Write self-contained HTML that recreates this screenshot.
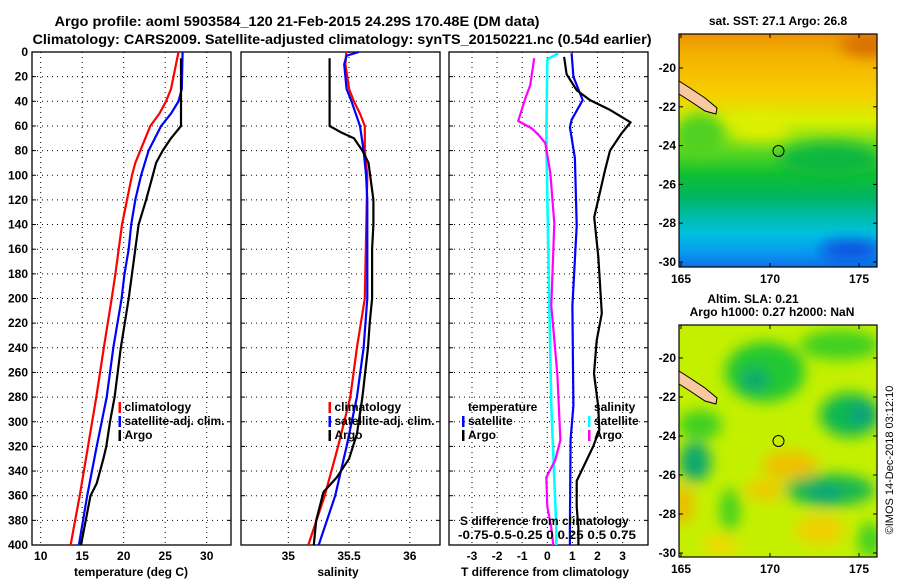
<!DOCTYPE html>
<html><head><meta charset="utf-8"><style>
html,body{margin:0;padding:0;background:#fff;}
svg{display:block;font-family:"Liberation Sans",sans-serif;font-weight:bold;}
</style></head><body>
<svg id="fig" width="900" height="580" viewBox="0 0 900 580" xmlns="http://www.w3.org/2000/svg">
<defs>
<filter id="blur6" x="-50%" y="-50%" width="200%" height="200%"><feGaussianBlur stdDeviation="7"/></filter>
<filter id="blur3"><feGaussianBlur stdDeviation="3"/></filter>
<linearGradient id="sstgrad" x1="0" y1="0" x2="0" y2="1">
<stop offset="0" stop-color="#ec9400"/><stop offset="0.1" stop-color="#f4b400"/>
<stop offset="0.25" stop-color="#f8cc00"/><stop offset="0.37" stop-color="#d8f000"/>
<stop offset="0.5" stop-color="#60d820"/><stop offset="0.6" stop-color="#10c030"/>
<stop offset="0.7" stop-color="#00b460"/><stop offset="0.78" stop-color="#00bca8"/>
<stop offset="0.86" stop-color="#00c0e0"/><stop offset="0.94" stop-color="#0898f0"/>
<stop offset="1" stop-color="#1070e8"/>
</linearGradient>
<clipPath id="clipTop"><rect x="679" y="34" width="198" height="233"/></clipPath>
<clipPath id="clipBot"><rect x="679" y="325" width="198" height="232"/></clipPath>
</defs>
<text x="297" y="26" font-size="14" text-anchor="middle" textLength="485" lengthAdjust="spacingAndGlyphs">Argo profile: aoml 5903584_120 21-Feb-2015 24.29S 170.48E (DM data)</text>
<text x="342" y="44" font-size="14" text-anchor="middle" textLength="619" lengthAdjust="spacingAndGlyphs">Climatology: CARS2009. Satellite-adjusted climatology: synTS_20150221.nc (0.54d earlier)</text>
<g id="panels"></g>
<g id="maps">
 <g clip-path="url(#clipTop)">
  <rect x="679" y="34" width="198" height="233" fill="url(#sstgrad)"/>
  <ellipse cx="700" cy="135" rx="25" ry="22" fill="#50d020" filter="url(#blur6)"/>
  <ellipse cx="830" cy="160" rx="50" ry="18" fill="#10b840" filter="url(#blur6)"/>
  <ellipse cx="760" cy="128" rx="30" ry="12" fill="#e0f000" filter="url(#blur6)"/>
  <ellipse cx="870" cy="45" rx="30" ry="12" fill="#d87000" filter="url(#blur6)"/>
  <ellipse cx="850" cy="250" rx="30" ry="10" fill="#1050e0" filter="url(#blur6)"/>
 </g>
 <rect x="679" y="34" width="198" height="233" fill="none" stroke="#000" stroke-width="1.2"/>
 <polygon points="679,81 690,88 705,98 717,108 716,114 705,111 690,101 679,94" fill="#f8c8a0" stroke="#000" stroke-width="1"/>
 <circle cx="778.5" cy="151" r="5.5" fill="none" stroke="#000" stroke-width="1"/>
 <text x="778" y="25" font-size="12" text-anchor="middle">sat. SST: 27.1 Argo: 26.8</text>

 <g clip-path="url(#clipBot)">
  <rect x="679" y="325" width="198" height="232" fill="#c4f000"/>
  <g filter="url(#blur6)">
   <ellipse cx="765" cy="372" rx="40" ry="30" fill="#20c830"/>
   <ellipse cx="840" cy="345" rx="40" ry="15" fill="#40d020"/>
   <ellipse cx="755" cy="380" rx="14" ry="12" fill="#10a870"/>
   <ellipse cx="700" cy="425" rx="22" ry="15" fill="#40d020"/>
   <ellipse cx="850" cy="415" rx="30" ry="22" fill="#10b850"/>
   <ellipse cx="862" cy="414" rx="12" ry="12" fill="#10a080"/>
   <ellipse cx="695" cy="462" rx="16" ry="20" fill="#10a870"/>
   <ellipse cx="830" cy="490" rx="45" ry="16" fill="#18b850"/>
   <ellipse cx="825" cy="495" rx="18" ry="8" fill="#10a080"/>
   <ellipse cx="790" cy="465" rx="28" ry="14" fill="#f0c000"/>
   <ellipse cx="765" cy="490" rx="20" ry="10" fill="#f0c800"/>
   <ellipse cx="683" cy="505" rx="10" ry="20" fill="#f0b800"/>
   <ellipse cx="820" cy="530" rx="25" ry="15" fill="#f0d000"/>
   <ellipse cx="720" cy="545" rx="18" ry="10" fill="#f0d800"/>
   <ellipse cx="730" cy="510" rx="10" ry="22" fill="#40d020"/>
   <ellipse cx="870" cy="540" rx="12" ry="18" fill="#40d020"/>
  </g>
 </g>
 <rect x="679" y="325" width="198" height="232" fill="none" stroke="#000" stroke-width="1.2"/>
 <polygon points="679,371 690,378 705,388 717,398 716,404 705,401 690,391 679,384" fill="#f8c8a0" stroke="#000" stroke-width="1"/>
 <circle cx="778.5" cy="441" r="5.5" fill="none" stroke="#000" stroke-width="1"/>
 <text x="753" y="303" font-size="12" text-anchor="middle">Altim. SLA: 0.21</text>
 <text x="772" y="316" font-size="12" text-anchor="middle">Argo h1000: 0.27 h2000: NaN</text>
 <g id="mapticks"></g>
 <text transform="translate(893,460) rotate(-90)" font-size="11" font-weight="normal" text-anchor="middle">©IMOS 14-Dec-2018 03:12:10</text>
</g>
</svg>
<script>
// ---- data (depth in dbar) ----
const tempClimDepth = [0,30,40,50,60,70,80,90,100,120,140,160,180,200,240,280,320,360,400];
const tempClim      = [26.6,25.7,25.1,24.3,23.2,22.6,22.0,21.4,21.0,20.4,19.8,19.4,19.0,18.55,17.6,16.7,15.7,14.7,13.6];
const tempSatDepth  = [0,30,40,50,60,80,100,120,140,160,180,200,240,280,320,360,400];
const tempSat       = [27.1,27.0,26.6,25.7,24.5,23.0,22.1,21.4,20.9,20.6,20.1,19.75,18.75,17.95,16.75,15.6,14.6];
const tempArgoDepth = [5,60,70,80,90,100,120,140,160,180,200,240,280,300,320,330,350,360,400];
const tempArgo      = [26.9,26.9,25.7,24.7,23.9,23.5,22.7,21.8,21.4,21.0,20.6,19.65,18.9,18.35,17.9,17.55,16.75,16.0,14.85];

const salClimDepth = [0,10,30,40,50,60,80,100,200,240,280,320,360,400];
const salClim      = [35.477,35.47,35.50,35.54,35.59,35.63,35.63,35.65,35.63,35.565,35.51,35.41,35.30,35.165];
const salSatDepth  = [0,3,10,30,40,60,80,100,120,200,240,280,320,360,400];
const salSat       = [35.58,35.48,35.46,35.48,35.52,35.59,35.62,35.64,35.65,35.65,35.62,35.565,35.48,35.386,35.25];
const salArgoDepth = [5,60,65,70,80,90,120,140,160,200,220,240,280,310,330,345,357,380,400];
const salArgo      = [35.34,35.34,35.43,35.54,35.61,35.66,35.70,35.70,35.69,35.69,35.67,35.656,35.61,35.565,35.50,35.40,35.29,35.23,35.21];

const dTSatDepth  = [1,20,39,55,61,86,141,206,287,314,385,400];
const dTSat       = [0.97,1.04,1.41,0.97,0.9,1.1,1.17,1.0,1.04,0.93,0.9,0.9];
const dTArgoDepth = [4,18,31,39,47,57,66,80,96,134,166,212,234,261,288,307,320,337,348,369,386,400];
const dTArgo      = [0.67,0.77,1.17,1.7,2.5,3.32,2.96,2.5,2.3,1.87,2.03,2.17,1.97,1.86,2.03,2.07,1.83,1.43,1.17,1.17,1.24,1.24];
const dSSatDepth  = [1,6,71,206,287,386,400];
const dSSat       = [0.11,0,-0.01,0.02,0.04,0.09,0.09];
const dSArgoDepth = [5,27,38,56,62,67,74,98,139,206,261,315,331,345,369,386,400];
const dSArgo      = [-0.13,-0.17,-0.22,-0.29,-0.155,-0.09,-0.02,0.03,0.07,0.04,0.10,0.13,0.08,-0.01,0,0.04,0.06];

const depthTicks = [0,20,40,60,80,100,120,140,160,180,200,220,240,260,280,300,320,340,360,380,400];
const tempTicks = [10,15,20,25,30];
const salTicks = [35,35.5,36];
const salTickLabels = ["35","35.5","36"];
const dTTicks = [-3,-2,-1,0,1,2,3];
const dSTickLabels = ["-0.75-0.5-0.25","0","0.25","0.5","0.75"];

// ---- axis functions ----
const Y0=52, Y1=545;
const yD = d => Y0 + d*(Y1-Y0)/400;
const xT = t => 40.7 + (t-10)*8.3;
const xS = s => 288.3 + (s-35)*121.5;
const xdT = t => 547.3 + t*25.1;
const xdS = s => 547.3 + s*100.4;

const NS="http://www.w3.org/2000/svg";
const root=document.getElementById('panels');
function mk(tag,attrs,parent){const e=document.createElementNS(NS,tag);for(const k in attrs)e.setAttribute(k,attrs[k]);(parent||root).appendChild(e);return e;}

const panels=[
 {name:'temperature-panel',x0:32,x1:231,ticks:tempTicks,labels:tempTicks.map(String),fx:xT,xlabel:'temperature (deg C)',lx:131},
 {name:'salinity-panel',x0:241,x1:440,ticks:salTicks,labels:salTickLabels,fx:xS,xlabel:'salinity',lx:338},
 {name:'difference-panel',x0:449,x1:648,ticks:dTTicks,labels:dTTicks.map(String),fx:xdT,xlabel:'T difference from climatology',lx:545}
];
panels.forEach((p,pi)=>{
 const g=mk('g',{});
 
 
 depthTicks.forEach(d=>{
  if(d>0&&d<400){const l=mk('line',{x1:p.x0,x2:p.x1,y1:yD(d),y2:yD(d),stroke:'#000','stroke-width':1,'stroke-dasharray':'1 4'},g);
   }
  mk('line',{x1:p.x0,x2:p.x0+4,y1:yD(d),y2:yD(d),stroke:'#000'},g);
  mk('line',{x1:p.x1-4,x2:p.x1,y1:yD(d),y2:yD(d),stroke:'#000'},g);
 });
 p.ticks.forEach((t,i)=>{
  const x=p.fx(t);
  const l=mk('line',{x1:x,x2:x,y1:Y0,y2:Y1,stroke:'#000','stroke-width':1,'stroke-dasharray':'1 4'},g);
  
  const tx=mk('text',{x:x,y:560,'font-size':12,'text-anchor':'middle'},g);
  
  tx.textContent=p.labels[i];
 });
 const fr=mk('rect',{x:p.x0,y:Y0,width:p.x1-p.x0,height:Y1-Y0,fill:'none',stroke:'#000','stroke-width':1.3},g);
 
 const xl=mk('text',{x:p.lx,y:576,'font-size':12,'text-anchor':'middle'},g);
 
 xl.textContent=p.xlabel;
});
depthTicks.forEach(d=>{
 const t=mk('text',{x:28,y:yD(d)+4,'font-size':12,'text-anchor':'end'});
 
 t.textContent=d;
});

function line(depths,vals,fx,color,name,w){
 const pts=depths.map((d,i)=>fx(vals[i]).toFixed(1)+','+yD(d).toFixed(1)).join(' ');
 const e=mk('polyline',{points:pts,fill:'none',stroke:color,'stroke-width':w||2.2,'stroke-linejoin':'round'});
 
 
}
line(tempClimDepth,tempClim,xT,'#ff0000','temp-climatology-line');
line(tempSatDepth,tempSat,xT,'#0000ff','temp-satellite-line');
line(tempArgoDepth,tempArgo,xT,'#000000','temp-argo-line');
line(salClimDepth,salClim,xS,'#ff0000','sal-climatology-line');
line(salSatDepth,salSat,xS,'#0000ff','sal-satellite-line');
line(salArgoDepth,salArgo,xS,'#000000','sal-argo-line');
line(dSSatDepth,dSSat,xdS,'#00ffff','sdiff-satellite-line',2.6);
line(dSArgoDepth,dSArgo,xdS,'#ff00ff','sdiff-argo-line');
line(dTSatDepth,dTSat,xdT,'#0000ff','tdiff-satellite-line');
line(dTArgoDepth,dTArgo,xdT,'#000000','tdiff-argo-line');

function legendEntry(x,y,color,label){
 const g=mk('g',{});
 
 
 if(color) mk('rect',{x:x-6,y:y-9,width:2.5,height:11,fill:color},g);
 const t=mk('text',{x:x,y:y,'font-size':12},g);t.textContent=label;
}
legendEntry(124.5,411,'#ff0000','climatology');
legendEntry(124.5,425,'#0000ff','satellite-adj. clim.');
legendEntry(124.5,439,'#000000','Argo');
legendEntry(334.5,411,'#ff0000','climatology');
legendEntry(334.5,425,'#0000ff','satellite-adj. clim.');
legendEntry(334.5,439,'#000000','Argo');
legendEntry(468,411,null,'temperature');
legendEntry(468,425,'#0000ff','satellite');
legendEntry(468,439,'#000000','Argo');
legendEntry(594,411,null,'salinity');
legendEntry(594,425,'#00ffff','satellite');
legendEntry(594,439,'#ff00ff','Argo');
const sd=mk('text',{x:460,y:525,'font-size':12});

sd.textContent='S difference from climatology';
const sdl=mk('text',{x:458,y:539,'font-size':12,textLength:178,lengthAdjust:'spacingAndGlyphs'});

sdl.textContent=dSTickLabels.join(' ');

// map ticks
const mt=document.getElementById('mapticks');
const lats=[-20,-22,-24,-26,-28,-30];
const lons=[165,170,175];
[[68,262,34,267,283],[358,553,325,557,573]].forEach(([ya,yb,top,bot,ly])=>{
 lats.forEach((la,i)=>{
  const y=ya+(yb-ya)*i/5;
  mk('line',{x1:679,x2:683,y1:y,y2:y,stroke:'#000'},mt);
  mk('line',{x1:873,x2:877,y1:y,y2:y,stroke:'#000'},mt);
  const t=mk('text',{x:676,y:y+4,'font-size':12,'text-anchor':'end'},mt);
  
  t.textContent=la;
 });
 lons.forEach((lo,i)=>{
  const x=681+(lo-165)*17.8;
  mk('line',{x1:x,x2:x,y1:top,y2:top+4,stroke:'#000'},mt);
  mk('line',{x1:x,x2:x,y1:bot-4,y2:bot,stroke:'#000'},mt);
  const t=mk('text',{x:x,y:ly,'font-size':12,'text-anchor':'middle'},mt);
  
  t.textContent=lo;
 });
});
</script>
</body></html>
